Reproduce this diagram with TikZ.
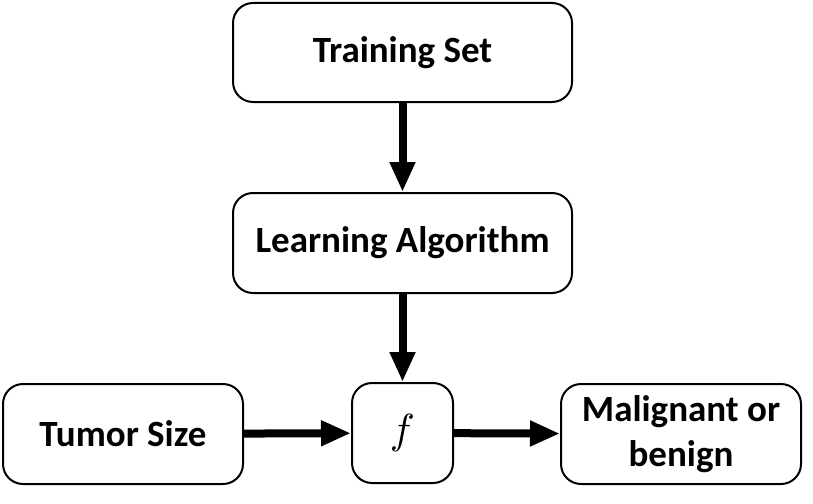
\documentclass[tikz,border=0pt]{standalone}
\usepackage{fontspec}
\setmainfont{Carlito}
\usetikzlibrary{arrows.meta}

\begin{document}
\begin{tikzpicture}[x=1pt,y=-1pt]

      \useasboundingbox (0,0) rectangle (813,503);

      \begin{scope}[every node/.style={draw, rounded corners=20pt, line width=2pt,
          align=center, font=\fontsize{37}{45}\selectfont\bfseries}]
        \node[minimum width=339pt, minimum height=99pt]  (train) at (402.5,52.5) {Training Set};
        \node[minimum width=339pt, minimum height=100pt] (learn) at (402.5,243) {Learning Algorithm};
        \node[minimum width=240pt, minimum height=100pt] (tumor) at (123,434) {Tumor Size};
        \node[minimum width=101pt, minimum height=100pt, font=\normalsize] (f) at (402.5,433) {\scalebox{4.2}{$f$}};
        \node[minimum width=240pt, minimum height=100pt] (out)   at (681,434) {Malignant or\\benign};
      \end{scope}

      \begin{scope}[every edge/.style={draw, line width=8pt, -{Triangle[length=30pt,width=24pt]}}]
        \path (train) edge (learn);
        \path (learn) edge (f);
        \path (tumor) edge (f);
        \path (f)     edge (out);
      \end{scope}

    \end{tikzpicture}
\end{document}
